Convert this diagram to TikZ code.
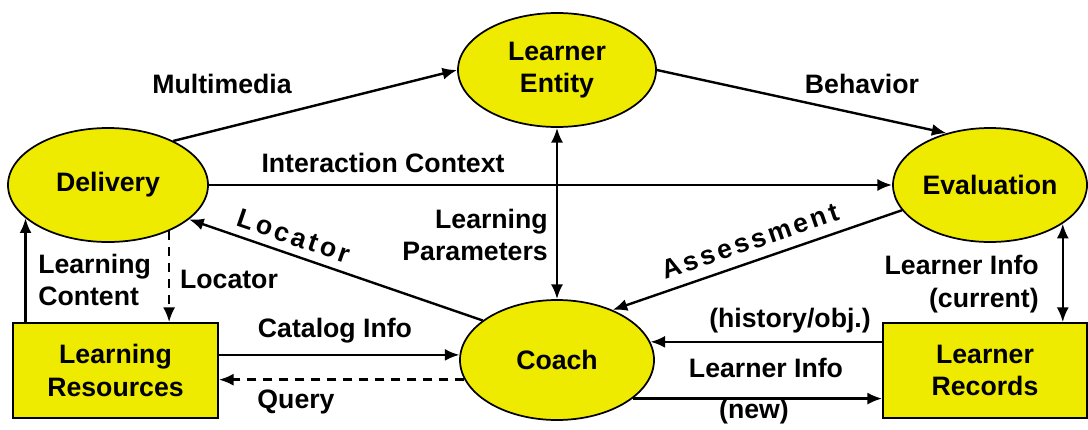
\documentclass[tikz,border=0pt]{standalone}
\usepackage{fontspec}
\setmainfont{Liberation Sans}
\newfontfamily\spacedfont[LetterSpace=12]{Liberation Sans}
\usepackage{xcolor}
\usepackage{tikz}
\usetikzlibrary{shapes.geometric,arrows.meta}

\definecolor{nodeyellow}{RGB}{238,234,0}

\tikzset{
  ell/.style={ellipse,draw,fill=nodeyellow,line width=1.3pt,inner sep=0pt,align=center},
  rbox/.style={rectangle,draw,fill=nodeyellow,line width=1.3pt,inner sep=0pt,align=center},
  flow/.style={line width=1.8pt,-{Latex[length=11pt,width=9pt]}},
  bothflow/.style={line width=1.8pt,{Latex[length=11pt,width=9pt]}-{Latex[length=11pt,width=9pt]}},
  dflow/.style={flow,dash pattern=on 7pt off 5pt},
  lbl/.style={inner sep=0.75pt},
  slbl/.style={lbl,font=\spacedfont\bfseries\fontsize{20}{24.5}\selectfont}
}

\begin{document}
\begin{tikzpicture}[x=0.75pt,y=0.75pt,yscale=-1,xscale=1,font=\bfseries\fontsize{20}{24.5}\selectfont]
\useasboundingbox (0,0) rectangle (1088,429);

%Shape: Ellipse [id:entity]
\draw (557,70) node [ell,minimum width=148.5pt,minimum height=85.5pt] (entity) {Learner\\Entity};
%Shape: Ellipse [id:delivery]
\draw (108,185) node [ell,minimum width=150pt,minimum height=85.5pt] (delivery) {Delivery};
%Shape: Ellipse [id:evaluation]
\draw (990,185) node [ell,minimum width=145.5pt,minimum height=85.5pt] (evaluation) {Evaluation};
%Shape: Ellipse [id:coach]
\draw (557,360) node [ell,minimum width=145.5pt,minimum height=90pt] (coach) {Coach};
%Shape: Rectangle [id:resources]
\draw (115.5,370.5) node [rbox,minimum width=153.75pt,minimum height=71.25pt] (resources) {Learning\\Resources};
%Shape: Rectangle [id:records]
\draw (985,370.5) node [rbox,minimum width=153pt,minimum height=71.25pt] (records) {Learner\\Records};

%Straight Lines
\draw [flow] (delivery.34) -- (entity.west);
\draw [flow] (entity.east) -- (evaluation.130);
\draw [flow] (delivery.east) -- (evaluation.west);
\draw [bothflow] (entity.south) -- (coach.north);
\draw [flow] (evaluation.196) -- (coach.42);
\draw [flow] (coach.152) -- (delivery.337);
\draw [flow] (delivery.202 |- resources.north) -- (delivery.202);
\draw [dflow] (delivery.323) -- (delivery.323 |- resources.north);
\draw [flow] (coach.177 -| resources.east) -- (coach.177);
\draw [dflow] (coach.192) -- (coach.192 -| resources.east);
\draw [flow] (coach.11 -| records.west) -- (coach.11);
\draw [flow] (coach.333) -- (coach.333 -| records.west);
\draw [bothflow] (evaluation.332) -- (evaluation.332 |- records.north);

% Text Node
\draw (222,84) node [lbl] (tmulti) {Multimedia};
% Text Node
\draw (862,84) node [lbl] (tbehav) {Behavior};
% Text Node
\draw (383,163) node [lbl] (tinter) {Interaction Context};
% Text Node
\draw (549,235) node [lbl,anchor=east,align=right] (tparam) {Learning\\Parameters};
% Text Node
\draw (294,236) node [slbl,rotate=-19] (tloc) {Locator};
% Text Node
\draw (750,241) node [slbl,rotate=19] (tassess) {Assessment};
% Text Node
\draw (37,280) node [lbl,anchor=west,align=left] (tcontent) {Learning\\Content};
% Text Node
\draw (229,279) node [lbl] (tloc2) {Locator};
% Text Node
\draw (335,331) node [lbl] (tcat) {Catalog Info};
% Text Node
\draw (296,402) node [lbl] (tquery) {Query};
% Text Node
\draw (790,321) node [lbl] (thist) {(history/obj.)};
% Text Node
\draw (766,368) node [lbl] (tinfo) {Learner Info};
% Text Node
\draw (754,412) node [lbl] (tnew) {(new)};
% Text Node
\draw (1040,284) node [lbl,anchor=east,align=right] (tcurrent) {Learner Info\\(current)};

\end{tikzpicture}
\end{document}
